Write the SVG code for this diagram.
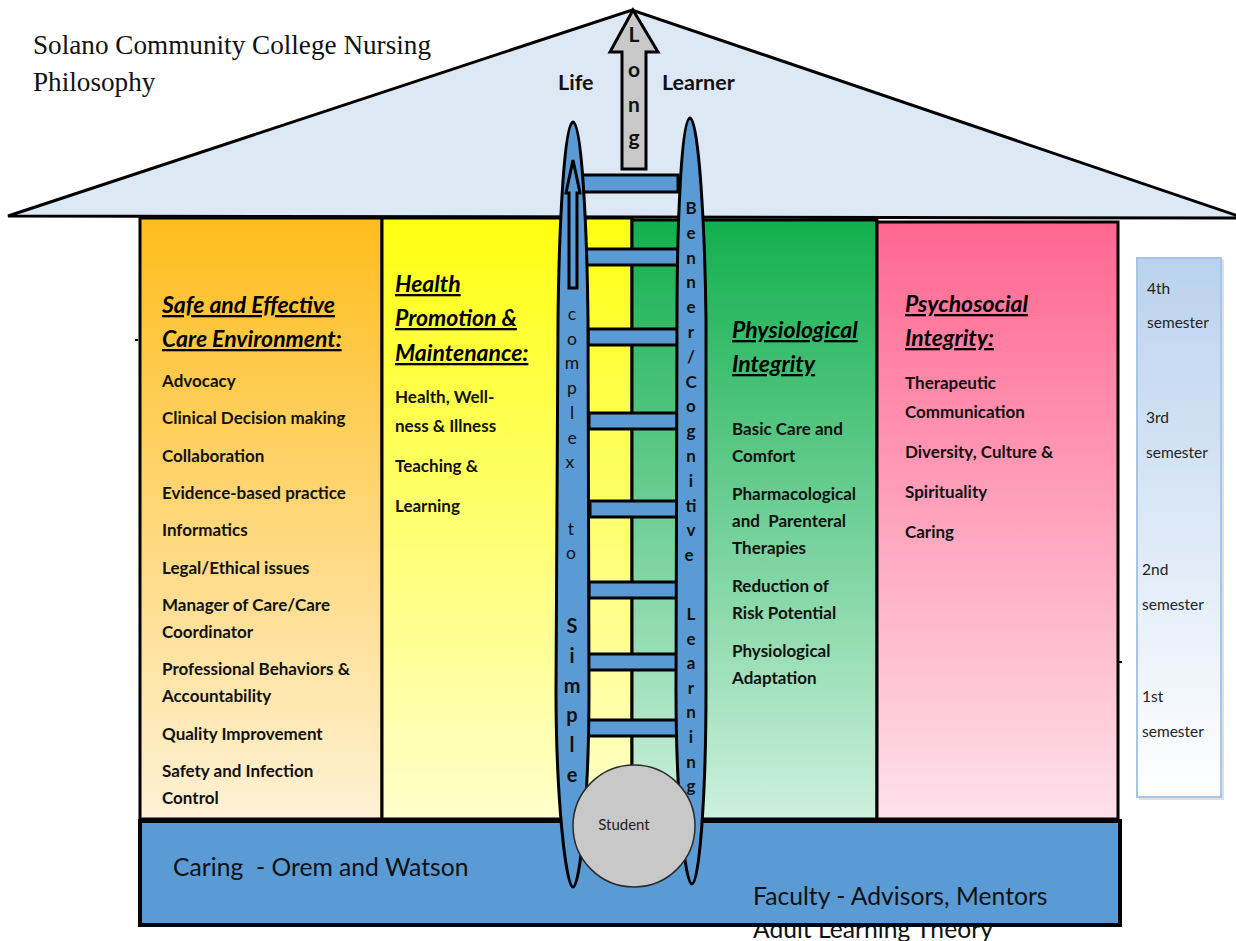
<svg xmlns="http://www.w3.org/2000/svg" width="1236" height="941" viewBox="0 0 1236 941">
  <defs>
    <linearGradient id="gOrange" x1="0" y1="0" x2="0" y2="1">
      <stop offset="0" stop-color="#ffbd1c"/>
      <stop offset="1" stop-color="#fff1d5"/>
    </linearGradient>
    <linearGradient id="gYellow" x1="0" y1="0" x2="0" y2="1">
      <stop offset="0" stop-color="#ffff10"/>
      <stop offset="1" stop-color="#ffffcc"/>
    </linearGradient>
    <linearGradient id="gGreen" x1="0" y1="0" x2="0" y2="1">
      <stop offset="0" stop-color="#12af4e"/>
      <stop offset="1" stop-color="#cdf0de"/>
    </linearGradient>
    <linearGradient id="gPink" x1="0" y1="0" x2="0" y2="1">
      <stop offset="0" stop-color="#ff6690"/>
      <stop offset="1" stop-color="#ffe1eb"/>
    </linearGradient>
    <linearGradient id="gSem" x1="0" y1="0" x2="0" y2="1">
      <stop offset="0" stop-color="#bad2ee"/>
      <stop offset="1" stop-color="#ffffff"/>
    </linearGradient>
    <style>
      .col { stroke: #000; stroke-width: 3; }
      .blue { fill: #5b9bd5; stroke: #000; stroke-width: 3; }
      .head { font-family: Lato, "Liberation Sans", sans-serif; font-weight: bold; font-style: italic; font-size: 23px; text-decoration: underline; fill: #000; }
      .item { font-family: Lato, "Liberation Sans", sans-serif; font-weight: bold; font-size: 17px; fill: #111; }
      .rail { font-family: Lato, "Liberation Sans", sans-serif; font-size: 17.5px; fill: #111; text-anchor: middle; }
      .railb { font-family: Lato, "Liberation Sans", sans-serif; font-weight: bold; font-size: 17px; fill: #111; text-anchor: middle; }
      .big { font-size: 20px; }
      .long { font-size: 21px; }
      .sem { font-family: Lato, "Liberation Sans", sans-serif; font-size: 15.5px; fill: #222; }
      .base { font-family: Lato, "Liberation Sans", sans-serif; font-size: 24.7px; fill: #111; }
      .roofw { font-family: Lato, "Liberation Sans", sans-serif; font-weight: bold; font-size: 21.5px; fill: #111; }
    </style>
  </defs>

  <rect width="1236" height="941" fill="#fff"/>

  <!-- roof -->
  <g id="roof">
    <polygon points="8,216 632,10 1244,218" fill="#dde8f5" stroke="#000" stroke-width="3" stroke-linejoin="miter"/>
    <text class="roofw" x="558" y="90">Life</text>
    <text class="roofw" x="662" y="90">Learner</text>
  </g>

  <g id="title" font-family="'Liberation Serif', serif" font-size="27.2" fill="#111">
    <text x="33" y="54">Solano Community College Nursing</text>
    <text x="33" y="91">Philosophy</text>
  </g>

  <!-- text partly hidden behind the base -->
  <text class="base" x="753" y="938">Adult Learning Theory</text>

  <!-- columns -->
  <g id="col-safe">
    <rect class="col" x="140" y="218" width="242" height="601" fill="url(#gOrange)"/>
    <text class="head" x="162" y="313">Safe and Effective</text>
    <text class="head" x="162" y="347">Care Environment:</text>
    <text class="item" x="162" y="387">Advocacy</text>
    <text class="item" x="162" y="424">Clinical Decision making</text>
    <text class="item" x="162" y="462">Collaboration</text>
    <text class="item" x="162" y="499">Evidence-based practice</text>
    <text class="item" x="162" y="536">Informatics</text>
    <text class="item" x="162" y="574">Legal/Ethical issues</text>
    <text class="item" x="162" y="611">Manager of Care/Care</text>
    <text class="item" x="162" y="638">Coordinator</text>
    <text class="item" x="162" y="675">Professional Behaviors &amp;</text>
    <text class="item" x="162" y="702">Accountability</text>
    <text class="item" x="162" y="740">Quality Improvement</text>
    <text class="item" x="162" y="777">Safety and Infection</text>
    <text class="item" x="162" y="804">Control</text>
  </g>

  <g id="col-health">
    <rect class="col" x="382" y="218" width="250" height="601" fill="url(#gYellow)"/>
    <text class="head" x="395" y="292">Health</text>
    <text class="head" x="395" y="326">Promotion &amp;</text>
    <text class="head" x="395" y="361">Maintenance:</text>
    <text class="item" x="395" y="403">Health, Well-</text>
    <text class="item" x="395" y="432">ness &amp; Illness</text>
    <text class="item" x="395" y="472">Teaching &amp;</text>
    <text class="item" x="395" y="512">Learning</text>
  </g>

  <g id="col-physio">
    <rect class="col" x="632" y="220" width="245" height="599" fill="url(#gGreen)"/>
    <text class="head" x="732" y="338">Physiological</text>
    <text class="head" x="732" y="372">Integrity</text>
    <text class="item" x="732" y="435">Basic Care and</text>
    <text class="item" x="732" y="462">Comfort</text>
    <text class="item" x="732" y="500">Pharmacological</text>
    <text class="item" x="732" y="527" xml:space="preserve">and  Parenteral</text>
    <text class="item" x="732" y="554">Therapies</text>
    <text class="item" x="732" y="592">Reduction of</text>
    <text class="item" x="732" y="619">Risk Potential</text>
    <text class="item" x="732" y="657">Physiological</text>
    <text class="item" x="732" y="684">Adaptation</text>
  </g>

  <g id="col-psycho">
    <rect class="col" x="877" y="222" width="241" height="597" fill="url(#gPink)"/>
    <text class="head" x="905" y="312">Psychosocial</text>
    <text class="head" x="905" y="346">Integrity:</text>
    <text class="item" x="905" y="389">Therapeutic</text>
    <text class="item" x="905" y="418">Communication</text>
    <text class="item" x="905" y="458">Diversity, Culture &amp;</text>
    <text class="item" x="905" y="498">Spirituality</text>
    <text class="item" x="905" y="538">Caring</text>
  </g>

  <!-- small stray marks at the wall edges -->
  <rect x="135" y="339" width="3" height="2" fill="#000"/>
  <rect x="1119" y="661" width="3" height="2" fill="#000"/>

  <!-- foundation -->
  <g id="base">
    <rect x="140" y="821" width="980" height="104" fill="#5b9bd5" stroke="#000" stroke-width="4"/>
    <text class="base" x="173" y="876" xml:space="preserve">Caring  - Orem and Watson</text>
    <text class="base" x="753" y="905">Faculty - Advisors, Mentors</text>
  </g>

  <!-- semester scale -->
  <g id="semesters">
    <rect x="1139" y="260" width="85" height="540" fill="#c9c9c9" opacity="0.6"/>
    <rect x="1137" y="258" width="84" height="539" fill="url(#gSem)" stroke="#a9c5e6" stroke-width="2"/>
    <text class="sem" x="1147" y="294">4th</text>
    <text class="sem" x="1147" y="328">semester</text>
    <text class="sem" x="1146" y="423">3rd</text>
    <text class="sem" x="1146" y="458">semester</text>
    <text class="sem" x="1142" y="575">2nd</text>
    <text class="sem" x="1142" y="610">semester</text>
    <text class="sem" x="1142" y="702">1st</text>
    <text class="sem" x="1142" y="737">semester</text>
  </g>

  <!-- ladder: rails, rungs and the "long" arrow -->
  <g id="ladder">
    <g id="rungs">
      <rect class="blue" x="582" y="175" width="96" height="17"/>
      <rect class="blue" x="586" y="249" width="93" height="16"/>
      <rect class="blue" x="588" y="329" width="91" height="16"/>
      <rect class="blue" x="589" y="413" width="90" height="16"/>
      <rect class="blue" x="590" y="501" width="90" height="16"/>
      <rect class="blue" x="589" y="582" width="91" height="16"/>
      <rect class="blue" x="587" y="654" width="92" height="16"/>
      <rect class="blue" x="587" y="720" width="91" height="16"/>
    </g>
    <g id="rail-left">
      <path class="blue" d="M573,122 C564,124 559,230 558,320 L556,690 C556,800 566,887 573,887 C580,887 589,800 589,690 L588,320 C587,230 582,124 573,122 Z"/>
      <path class="blue" d="M573,160 L580,193 L577,193 L577,288 L569,288 L569,193 L566,193 Z" stroke-width="2.5"/>
      <text class="rail">
        <tspan x="572" y="320">c</tspan><tspan x="572" y="344.7">o</tspan><tspan x="572" y="369.4">m</tspan><tspan x="572" y="394">p</tspan><tspan x="572" y="418.8">l</tspan><tspan x="572" y="443.5">e</tspan><tspan x="572" y="468.2">x</tspan>
        <tspan x="571" y="535">t</tspan><tspan x="571" y="559">o</tspan>
      </text>
      <text class="railb big">
        <tspan x="572" y="633">S</tspan><tspan x="572" y="663">i</tspan><tspan x="572" y="693">m</tspan><tspan x="572" y="722">p</tspan><tspan x="572" y="752">l</tspan><tspan x="572" y="782">e</tspan>
      </text>
    </g>
    <g id="rail-right">
      <path class="blue" d="M690,118 C681,120 677,230 677,320 L676,690 C676,800 685,884 692,884 C699,884 706,800 706,690 L706,320 C705,230 699,120 690,118 Z"/>
      <text class="railb">
        <tspan x="691" y="214">B</tspan><tspan x="691" y="238.8">e</tspan><tspan x="691" y="263.6">n</tspan><tspan x="691" y="288.4">n</tspan><tspan x="691" y="313.2">e</tspan><tspan x="691" y="338">r</tspan><tspan x="691" y="362.8">/</tspan><tspan x="691" y="387.6">C</tspan><tspan x="691" y="412.4">o</tspan><tspan x="691" y="437.2">g</tspan><tspan x="691" y="462">n</tspan><tspan x="691" y="486.8">i</tspan><tspan x="691" y="511.6">ti</tspan><tspan x="691" y="536.4">v</tspan><tspan x="691" y="561.2">e</tspan>
        <tspan x="691" y="620">L</tspan><tspan x="691" y="644.6">e</tspan><tspan x="691" y="669.2">a</tspan><tspan x="691" y="693.8">r</tspan><tspan x="691" y="718.4">n</tspan><tspan x="691" y="743">i</tspan><tspan x="691" y="767.6">n</tspan><tspan x="691" y="792.2">g</tspan>
      </text>
    </g>
  </g>

  <g id="arrow-long">
    <path d="M633,10 L658,52 L646,52 L646,169 L622,169 L622,52 L610,52 Z" fill="#c8c8c8" stroke="#000" stroke-width="3" stroke-linejoin="miter"/>
    <text class="railb long">
      <tspan x="634" y="42">L</tspan><tspan x="634" y="77">o</tspan><tspan x="634" y="112">n</tspan><tspan x="634" y="145">g</tspan>
    </text>
  </g>

  <g id="student">
    <circle cx="634" cy="826" r="61" fill="#c8c8c8" stroke="#2a2a2a" stroke-width="1.5"/>
    <text x="624" y="830" text-anchor="middle" font-family="Lato, 'Liberation Sans', sans-serif" font-size="15" fill="#222">Student</text>
  </g>
</svg>
